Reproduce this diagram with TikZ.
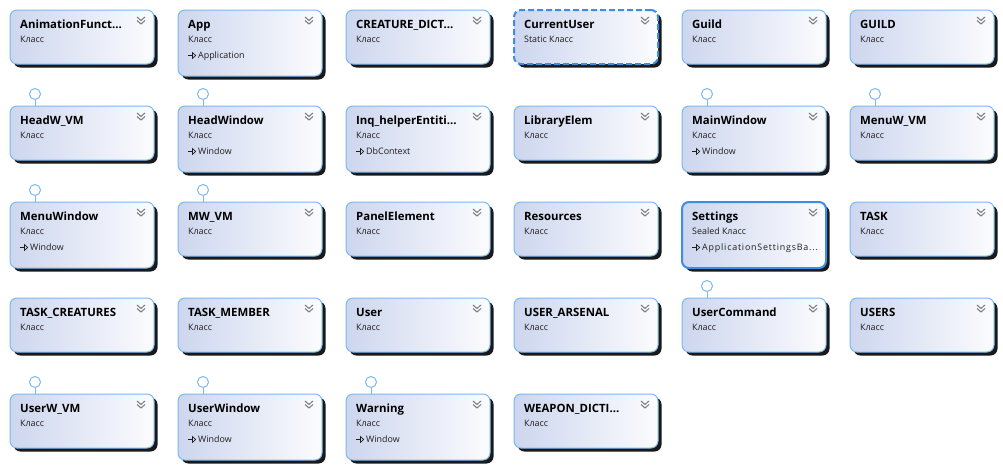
\documentclass[tikz,border=0pt]{standalone}
\usepackage{fontspec}
\setmainfont{Open Sans}
\newfontfamily\spacedfont[LetterSpace=9]{Open Sans}
\definecolor{bord}{HTML}{7DB8F2}
\definecolor{shadeL}{HTML}{CDD6EE}
\definecolor{shadeR}{HTML}{FBFCFE}
\definecolor{chev}{HTML}{7A7A7A}
\definecolor{selb}{HTML}{3A8EE6}
\definecolor{txt}{HTML}{1E1E1E}
\tikzset{
 clsbody/.style={draw=bord, line width=1pt, rounded corners=7pt, left color=shadeL, right color=shadeR, anchor=north west, minimum width=144pt, inner sep=0pt, outer sep=0pt},
 clsshadow/.style={fill=black!90, rounded corners=7pt, draw=none},
 titlest/.style={anchor=base west, font=\bfseries\fontsize{11.4}{13}\selectfont, inner sep=0pt, text=black},
 kindst/.style={anchor=base west, font=\fontsize{8.9}{10}\selectfont, inner sep=0pt, text=txt},
 chevst/.style={draw=chev, line width=1pt},
 selst/.style={draw=selb, line width=2pt},
 dashst/.style={draw=selb, line width=2pt, dash pattern=on 6pt off 3pt},
 plainst/.style={},
 lollist/.style={draw=bord, line width=1pt, fill=white}
}
\newcommand\clsbox[8]{%
 \fill[clsshadow] (#2+3.5,#3+3.5) rectangle (#2+147.5,#3+#4+3.5);
 \node[clsbody,minimum height=#4pt,#8] (#1) at (#2,#3) {};
 \draw[chevst] ([shift={(-17,7)}]#1.north east) -- ++(4,3.5) -- ++(4,-3.5);
 \draw[chevst] ([shift={(-17,10.5)}]#1.north east) -- ++(4,3.5) -- ++(4,-3.5);
 \node[titlest] (#1-t) at ([shift={(10,18.5)}]#1.north west) {#5};
 \node[kindst] (#1-k) at ([shift={(10,32.5)}]#1.north west) {#6};
 \if\relax\detokenize{#7}\relax\else
  \draw[txt, line width=0.8pt] ([shift={(10,45.5)}]#1.north west) -- ++(5,0);
  \draw[txt, line width=0.7pt, line join=miter] ([shift={(14.5,42.7)}]#1.north west) -- ++(3.2,2.8) -- ++(-3.2,2.8) -- cycle;
  \node[kindst] (#1-b) at ([shift={(20,48.5)}]#1.north west) {#7};
 \fi
}
\newcommand\lolli[1]{%
 \coordinate (#1-lc) at ([shift={(25,-12)}]#1.north west);
 \draw[lollist] ([shift={(25,0)}]#1.north west) -- ([shift={(25,-6.5)}]#1.north west);
 \draw[lollist] (#1-lc) circle (5.5pt);
}
\begin{document}
\begin{tikzpicture}[x=1pt,y=-1pt]
\fill[white] (0,0) rectangle (1003,469);
\useasboundingbox (0,0) rectangle (1003,469);
% row 1
\clsbox{animf}{10}{10}{54}{AnimationFunct...}{Класс}{}{plainst}
\clsbox{app}{178}{10}{66}{App}{Класс}{Application}{plainst}
\clsbox{credict}{346}{10}{54}{CREATURE\_DICT...}{Класс}{}{plainst}
\clsbox{curuser}{514}{10}{54}{CurrentUser}{Static Класс}{}{dashst}
\clsbox{guild}{682}{10}{54}{Guild}{Класс}{}{plainst}
\clsbox{GUILD}{850}{10}{54}{GUILD}{Класс}{}{plainst}
% row 2
\clsbox{headwvm}{10}{106}{54}{HeadW\_VM}{Класс}{}{plainst}
\clsbox{headwin}{178}{106}{66}{HeadWindow}{Класс}{Window}{plainst}
\clsbox{inq}{346}{106}{66}{Inq\_helperEntiti...}{Класс}{DbContext}{plainst}
\clsbox{libel}{514}{106}{54}{LibraryElem}{Класс}{}{plainst}
\clsbox{mainwin}{682}{106}{66}{MainWindow}{Класс}{Window}{plainst}
\clsbox{menuwvm}{850}{106}{54}{MenuW\_VM}{Класс}{}{plainst}
% row 3
\clsbox{menuwin}{10}{202}{66}{MenuWindow}{Класс}{Window}{plainst}
\clsbox{mwvm}{178}{202}{54}{MW\_VM}{Класс}{}{plainst}
\clsbox{panel}{346}{202}{54}{PanelElement}{Класс}{}{plainst}
\clsbox{res}{514}{202}{54}{Resources}{Класс}{}{plainst}
\clsbox{settings}{682}{202}{66}{Settings}{Sealed Класс}{{\spacedfont ApplicationSettingsBa...}}{selst}
\clsbox{task}{850}{202}{54}{TASK}{Класс}{}{plainst}
% row 4
\clsbox{taskcr}{10}{298}{54}{TASK\_CREATURES}{Класс}{}{plainst}
\clsbox{taskmem}{178}{298}{54}{TASK\_MEMBER}{Класс}{}{plainst}
\clsbox{user}{346}{298}{54}{User}{Класс}{}{plainst}
\clsbox{userars}{514}{298}{54}{USER\_ARSENAL}{Класс}{}{plainst}
\clsbox{usercmd}{682}{298}{54}{UserCommand}{Класс}{}{plainst}
\clsbox{USERS}{850}{298}{54}{USERS}{Класс}{}{plainst}
% row 5
\clsbox{userwvm}{10}{394}{54}{UserW\_VM}{Класс}{}{plainst}
\clsbox{userwin}{178}{394}{66}{UserWindow}{Класс}{Window}{plainst}
\clsbox{warning}{346}{394}{66}{Warning}{Класс}{Window}{plainst}
\clsbox{weapon}{514}{394}{54}{WEAPON\_DICTI...}{Класс}{}{plainst}
% lollipops
\lolli{headwvm}\lolli{headwin}\lolli{mainwin}\lolli{menuwvm}
\lolli{menuwin}\lolli{mwvm}\lolli{usercmd}
\lolli{userwvm}\lolli{userwin}\lolli{warning}
\end{tikzpicture}
\end{document}
